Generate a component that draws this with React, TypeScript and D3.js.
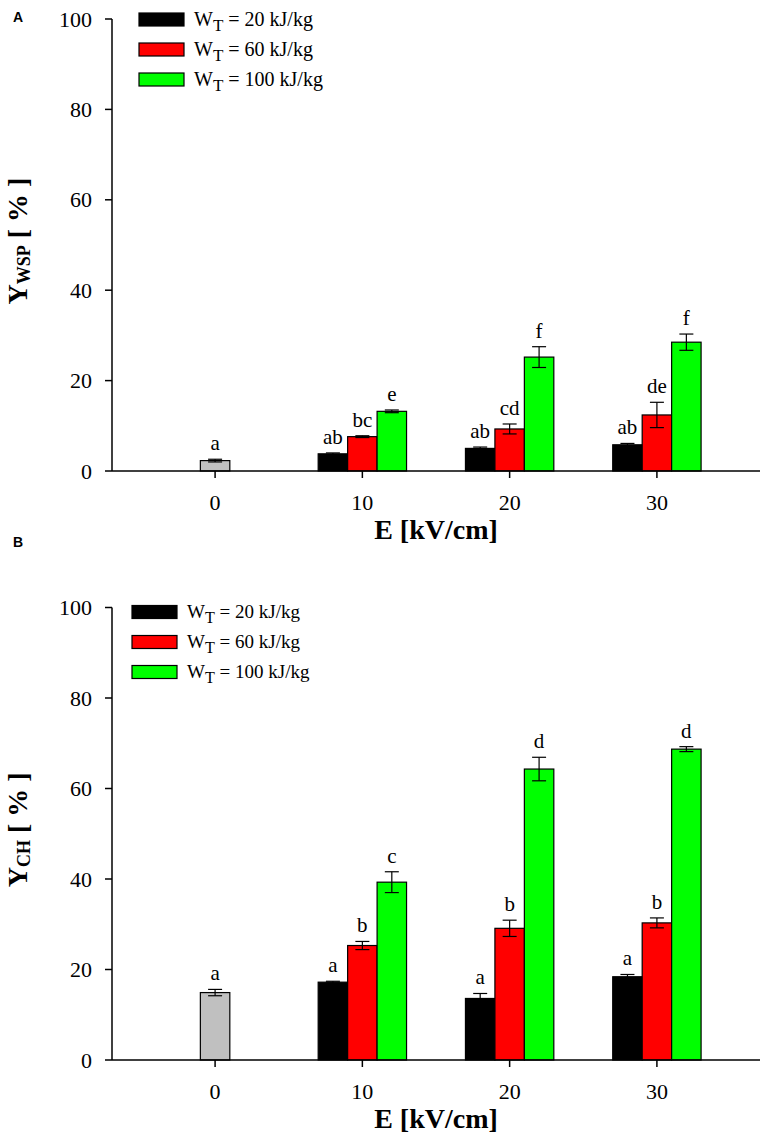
import React from "react";
import * as d3 from "d3";

// ---------- data ----------
const categories = [0, 10, 20, 30];
const treatedCategories = [10, 20, 30];
const seriesNames = ["20", "60", "100"];
const seriesColors = ["#000000", "#ff0000", "#00ff00"];
const controlColor = "#c0c0c0";
const yTicks = [0, 20, 40, 60, 80, 100];

// Panel A: Y_WSP
const wspControl = 2.3;
const wspControlErr = 0.3;
const wspControlLetter = "a";
const wsp20 = [3.8, 5.0, 5.8];
const wsp20Err = [0.2, 0.3, 0.3];
const wsp60 = [7.6, 9.3, 12.4];
const wsp60Err = [0.2, 1.1, 2.8];
const wsp100 = [13.2, 25.2, 28.5];
const wsp100Err = [0.3, 2.3, 1.8];
const wspLetters20 = ["ab", "ab", "ab"];
const wspLetters60 = ["bc", "cd", "de"];
const wspLetters100 = ["e", "f", "f"];

// Panel B: Y_CH
const chControl = 14.9;
const chControlErr = 0.7;
const chControlLetter = "a";
const ch20 = [17.2, 13.6, 18.4];
const ch20Err = [0.2, 1.1, 0.5];
const ch60 = [25.3, 29.1, 30.3];
const ch60Err = [0.9, 1.8, 1.1];
const ch100 = [39.3, 64.3, 68.7];
const ch100Err = [2.3, 2.6, 0.55];
const chLetters20 = ["a", "a", "a"];
const chLetters60 = ["b", "b", "b"];
const chLetters100 = ["c", "d", "d"];

const serif = "'Liberation Serif', 'Times New Roman', serif";
const sans = "'Liberation Sans', Arial, sans-serif";

type PanelProps = {
  top: number;
  bottom: number;
  panelLetter: string;
  panelLetterY: number;
  sub: string;
  control: number;
  controlErr: number;
  controlLetter: string;
  values: number[][];
  errs: number[][];
  letters: string[][];
  legendX: number;
  legendY: number;
  legendFont: number;
};

function Panel(p: PanelProps) {
  const x = d3.scaleLinear().domain([-7, 37]).range([112, 760]);
  const y = d3.scaleLinear().domain([0, 100]).range([p.bottom, p.top]);
  const bw = x(2) - x(0);
  const cap = 7;
  const letterGap = 9;

  const bars: any[] = [];
  bars.push(
    <g key="ctrl">
      <rect x={x(0) - bw / 2} y={y(p.control)} width={bw} height={y(0) - y(p.control)} fill={controlColor} stroke="#000" strokeWidth={1.2} />
      <line x1={x(0)} x2={x(0)} y1={y(p.control - p.controlErr)} y2={y(p.control + p.controlErr)} stroke="#000" strokeWidth={1.2} />
      <line x1={x(0) - cap} x2={x(0) + cap} y1={y(p.control + p.controlErr)} y2={y(p.control + p.controlErr)} stroke="#000" strokeWidth={1.2} />
      <line x1={x(0) - cap} x2={x(0) + cap} y1={y(p.control - p.controlErr)} y2={y(p.control - p.controlErr)} stroke="#000" strokeWidth={1.2} />
      <text x={x(0)} y={y(p.control + p.controlErr) - letterGap} textAnchor="middle" fontFamily={serif} fontSize={21}>{p.controlLetter}</text>
    </g>
  );
  p.values.forEach((vals, s) => {
    vals.forEach((v, i) => {
      const c = treatedCategories[i];
      const bx = x(c) + (s - 1.5) * bw;
      const mx = bx + bw / 2;
      const e = p.errs[s][i];
      bars.push(
        <g key={`b${s}-${i}`}>
          <rect x={bx} y={y(v)} width={bw} height={y(0) - y(v)} fill={seriesColors[s]} stroke="#000" strokeWidth={1.2} />
          <line x1={mx} x2={mx} y1={y(v - e)} y2={y(v + e)} stroke="#000" strokeWidth={1.2} />
          <line x1={mx - cap} x2={mx + cap} y1={y(v + e)} y2={y(v + e)} stroke="#000" strokeWidth={1.2} />
          <line x1={mx - cap} x2={mx + cap} y1={y(v - e)} y2={y(v - e)} stroke="#000" strokeWidth={1.2} />
          <text x={mx} y={y(v + e) - letterGap} textAnchor="middle" fontFamily={serif} fontSize={21}>{p.letters[s][i]}</text>
        </g>
      );
    });
  });

  const midY = (p.top + p.bottom) / 2;

  return (
    <g>
      <text x={13} y={p.panelLetterY} fontFamily={sans} fontWeight="bold" fontSize={14}>{p.panelLetter}</text>
      {bars}
      <line x1={x(-7)} x2={x(-7)} y1={y(0)} y2={y(100)} stroke="#000" strokeWidth={1.5} />
      {yTicks.map((t) => (
        <g key={`yt${t}`}>
          <line x1={x(-7) - 7} x2={x(-7)} y1={y(t)} y2={y(t)} stroke="#000" strokeWidth={1.5} />
          <text x={x(-7) - 20} y={y(t) + 7.5} textAnchor="end" fontFamily={serif} fontSize={22}>{t}</text>
        </g>
      ))}
      <line x1={x(-7)} x2={x(37)} y1={y(0)} y2={y(0)} stroke="#000" strokeWidth={1.5} />
      {categories.map((c) => (
        <g key={`xt${c}`}>
          <line x1={x(c)} x2={x(c)} y1={y(0)} y2={y(0) + 7} stroke="#000" strokeWidth={1.5} />
          <text x={x(c)} y={y(0) + 39} textAnchor="middle" fontFamily={serif} fontSize={22}>{c}</text>
        </g>
      ))}
      <text x={(x(-7) + x(37)) / 2} y={y(0) + 68} textAnchor="middle" fontFamily={serif} fontWeight="bold" fontSize={28}>E [kV/cm]</text>
      <text transform={`translate(27,${midY - 4}) rotate(-90)`} textAnchor="middle" fontFamily={serif} fontWeight="bold" fontSize={28}>
        <tspan>Y</tspan>
        <tspan fontSize={18} dy={3}>{p.sub}</tspan>
        <tspan dy={-3}>{" [ % ]"}</tspan>
      </text>
      {seriesNames.map((n, i) => {
        const ry = p.legendY + i * 30;
        return (
          <g key={`lg${i}`}>
            <rect x={p.legendX} y={ry - 6.5} width={45} height={13} fill={seriesColors[i]} stroke="#000" strokeWidth={1.2} />
            <text x={p.legendX + 55} y={ry + 6} fontFamily={serif} fontSize={p.legendFont}>
              <tspan>W</tspan>
              <tspan fontSize={p.legendFont * 0.85} dy={5}>T</tspan>
              <tspan dy={-5}>{` = ${n} kJ/kg`}</tspan>
            </text>
          </g>
        );
      })}
    </g>
  );
}

export default function App() {
  return (
    <svg width={770} height={1148} style={{ position: "absolute", left: 0, top: 0, background: "#fff" }}>
      <rect x={0} y={0} width={770} height={1148} fill="#fff" />
      <Panel
        top={19}
        bottom={471}
        panelLetter="A"
        panelLetterY={22}
        sub="WSP"
        control={wspControl}
        controlErr={wspControlErr}
        controlLetter={wspControlLetter}
        values={[wsp20, wsp60, wsp100]}
        errs={[wsp20Err, wsp60Err, wsp100Err]}
        letters={[wspLetters20, wspLetters60, wspLetters100]}
        legendX={139}
        legendY={19.5}
        legendFont={20}
      />
      <Panel
        top={607.5}
        bottom={1060}
        panelLetter="B"
        panelLetterY={547}
        sub="CH"
        control={chControl}
        controlErr={chControlErr}
        controlLetter={chControlLetter}
        values={[ch20, ch60, ch100]}
        errs={[ch20Err, ch60Err, ch100Err]}
        letters={[chLetters20, chLetters60, chLetters100]}
        legendX={132}
        legendY={612}
        legendFont={19}
      />
    </svg>
  );
}
